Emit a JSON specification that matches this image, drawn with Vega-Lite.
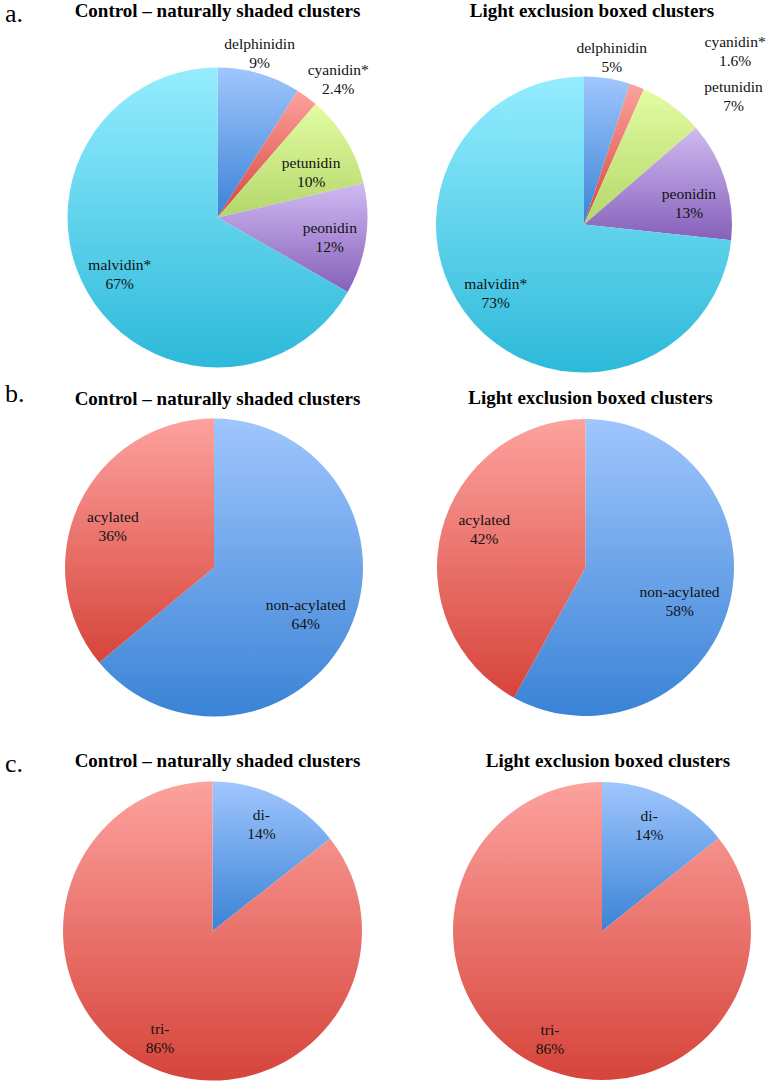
{
  "$schema": "https://vega.github.io/schema/vega-lite/v6.json",
  "background": "white",
  "padding": {"left": 0, "top": 0, "right": 0, "bottom": 0},
  "config": {
    "view": {"stroke": null},
    "title": {"font": "Liberation Serif", "fontSize": 19, "fontWeight": "bold", "color": "#000000"},
    "text": {"font": "Liberation Serif", "fontSize": 15.5, "color": "#111111", "lineBreak": "\n", "lineHeight": 19, "baseline": "middle", "align": "center", "dy": -9.5}
  },
  "datasets": {
    "aC": [
      {"name": "delphinidin", "label": "delphinidin\n9%", "value": 9, "order": 1},
      {"name": "cyanidin", "label": "cyanidin*\n2.4%", "value": 2.4, "order": 2},
      {"name": "petunidin", "label": "petunidin\n10%", "value": 10, "order": 3},
      {"name": "peonidin", "label": "peonidin\n12%", "value": 12, "order": 4},
      {"name": "malvidin", "label": "malvidin*\n67%", "value": 67, "order": 5}
    ],
    "aL": [
      {"name": "delphinidin", "label": "delphinidin\n5%", "value": 5, "order": 1},
      {"name": "cyanidin", "label": "cyanidin*\n1.6%", "value": 1.6, "order": 2},
      {"name": "petunidin", "label": "petunidin\n7%", "value": 7, "order": 3},
      {"name": "peonidin", "label": "peonidin\n13%", "value": 13, "order": 4},
      {"name": "malvidin", "label": "malvidin*\n73%", "value": 73, "order": 5}
    ],
    "bC": [
      {"name": "non-acylated", "label": "non-acylated\n64%", "value": 64, "order": 1},
      {"name": "acylated", "label": "acylated\n36%", "value": 36, "order": 2}
    ],
    "bL": [
      {"name": "non-acylated", "label": "non-acylated\n58%", "value": 58, "order": 1},
      {"name": "acylated", "label": "acylated\n42%", "value": 42, "order": 2}
    ],
    "cC": [
      {"name": "di-", "label": "di-\n14%", "value": 14.4, "order": 1},
      {"name": "tri-", "label": "tri-\n86%", "value": 85.6, "order": 2}
    ],
    "cL": [
      {"name": "di-", "label": "di-\n14%", "value": 14.3, "order": 1},
      {"name": "tri-", "label": "tri-\n86%", "value": 85.7, "order": 2}
    ]
  },
  "columns": 3,
  "align": "each",
  "bounds": "flush",
  "spacing": {"row": 63.5, "column": 66.5},
  "resolve": {"scale": {"theta": "independent"}},
  "concat": [
    {
      "width": 1, "height": 1,
      "title": {"text": "a.", "anchor": "start", "fontSize": 26, "fontWeight": "normal", "dx": 5, "offset": 68.5},
      "data": {"values": []},
      "mark": "point"
    },
    {
      "width": 300, "height": 245,
      "title": {"text": "Control – naturally shaded clusters", "offset": 16.25, "dx": 0},
      "data": {"name": "aC"},
      "encoding": {
        "theta": {"field": "value", "type": "quantitative", "stack": true},
        "order": {"field": "order", "type": "quantitative"}
      },
      "layer": [
        {"mark": {"type": "arc", "outerRadius": 150, "color": {"gradient": "linear", "x1": 0, "y1": 0, "x2": 0, "y2": 1, "stops": [{"offset": 0, "color": "#a0c6fd"}, {"offset": 1, "color": "#3a83d6"}]}},
         "encoding": {"opacity": {"condition": {"test": "datum.name === 'delphinidin'", "value": 1}, "value": 0}}},
        {"mark": {"type": "arc", "outerRadius": 150, "color": {"gradient": "linear", "x1": 0, "y1": 0, "x2": 0, "y2": 1, "stops": [{"offset": 0, "color": "#fda29e"}, {"offset": 1, "color": "#d6443a"}]}},
         "encoding": {"opacity": {"condition": {"test": "datum.name === 'cyanidin'", "value": 1}, "value": 0}}},
        {"mark": {"type": "arc", "outerRadius": 150, "color": {"gradient": "linear", "x1": 0, "y1": 0, "x2": 0, "y2": 1, "stops": [{"offset": 0, "color": "#e3fca3"}, {"offset": 1, "color": "#b3d76a"}]}},
         "encoding": {"opacity": {"condition": {"test": "datum.name === 'petunidin'", "value": 1}, "value": 0}}},
        {"mark": {"type": "arc", "outerRadius": 150, "color": {"gradient": "linear", "x1": 0, "y1": 0, "x2": 0, "y2": 1, "stops": [{"offset": 0, "color": "#d0baf1"}, {"offset": 1, "color": "#8660ba"}]}},
         "encoding": {"opacity": {"condition": {"test": "datum.name === 'peonidin'", "value": 1}, "value": 0}}},
        {"mark": {"type": "arc", "outerRadius": 150, "color": {"gradient": "linear", "x1": 0, "y1": 0, "x2": 0, "y2": 1, "stops": [{"offset": 0, "color": "#95edfe"}, {"offset": 1, "color": "#2db9da"}]}},
         "encoding": {"opacity": {"condition": {"test": "datum.name === 'malvidin'", "value": 1}, "value": 0}}},
        {"mark": {"type": "text",
           "radius": {"expr": "datum.name === 'delphinidin' ? 169 : datum.name === 'cyanidin' ? 183 : datum.name === 'petunidin' ? 104 : datum.name === 'peonidin' ? 114 : 113"},
           "thetaOffset": {"expr": "datum.name === 'delphinidin' ? -0.03 : datum.name === 'cyanidin' ? 0.082 : datum.name === 'petunidin' ? 0.094 : datum.name === 'peonidin' ? 0.03 : 0"}},
         "encoding": {"text": {"field": "label", "type": "nominal"}}}
      ]
    },
    {
      "width": 300, "height": 259,
      "title": {"text": "Light exclusion boxed clusters", "offset": 13.25, "dx": 8},
      "data": {"name": "aL"},
      "encoding": {
        "theta": {"field": "value", "type": "quantitative", "stack": true},
        "order": {"field": "order", "type": "quantitative"}
      },
      "layer": [
        {"mark": {"type": "arc", "outerRadius": 148, "color": {"gradient": "linear", "x1": 0, "y1": 0, "x2": 0, "y2": 1, "stops": [{"offset": 0, "color": "#a0c6fd"}, {"offset": 1, "color": "#3a83d6"}]}},
         "encoding": {"opacity": {"condition": {"test": "datum.name === 'delphinidin'", "value": 1}, "value": 0}}},
        {"mark": {"type": "arc", "outerRadius": 148, "color": {"gradient": "linear", "x1": 0, "y1": 0, "x2": 0, "y2": 1, "stops": [{"offset": 0, "color": "#fda29e"}, {"offset": 1, "color": "#d6443a"}]}},
         "encoding": {"opacity": {"condition": {"test": "datum.name === 'cyanidin'", "value": 1}, "value": 0}}},
        {"mark": {"type": "arc", "outerRadius": 148, "color": {"gradient": "linear", "x1": 0, "y1": 0, "x2": 0, "y2": 1, "stops": [{"offset": 0, "color": "#e3fca3"}, {"offset": 1, "color": "#b3d76a"}]}},
         "encoding": {"opacity": {"condition": {"test": "datum.name === 'petunidin'", "value": 1}, "value": 0}}},
        {"mark": {"type": "arc", "outerRadius": 148, "color": {"gradient": "linear", "x1": 0, "y1": 0, "x2": 0, "y2": 1, "stops": [{"offset": 0, "color": "#d0baf1"}, {"offset": 1, "color": "#8660ba"}]}},
         "encoding": {"opacity": {"condition": {"test": "datum.name === 'peonidin'", "value": 1}, "value": 0}}},
        {"mark": {"type": "arc", "outerRadius": 148, "color": {"gradient": "linear", "x1": 0, "y1": 0, "x2": 0, "y2": 1, "stops": [{"offset": 0, "color": "#95edfe"}, {"offset": 1, "color": "#2db9da"}]}},
         "encoding": {"opacity": {"condition": {"test": "datum.name === 'malvidin'", "value": 1}, "value": 0}}},
        {"mark": {"type": "text",
           "radius": {"expr": "datum.name === 'delphinidin' ? 169 : datum.name === 'cyanidin' ? 230 : datum.name === 'petunidin' ? 197 : datum.name === 'peonidin' ? 107 : 112"},
           "thetaOffset": {"expr": "datum.name === 'delphinidin' ? 0.007 : datum.name === 'cyanidin' ? 0.351 : datum.name === 'petunidin' ? 0.225 : datum.name === 'peonidin' ? 0.103 : 0.068"}},
         "encoding": {"text": {"field": "label", "type": "nominal"}}}
      ]
    },
    {
      "width": 1, "height": 1,
      "title": {"text": "b.", "anchor": "start", "fontSize": 26, "fontWeight": "normal", "dx": 5, "offset": 11},
      "data": {"values": []},
      "mark": "point"
    },
    {
      "width": 293, "height": 300,
      "title": {"text": "Control – naturally shaded clusters", "offset": 9, "dx": 3.5},
      "data": {"name": "bC"},
      "encoding": {
        "theta": {"field": "value", "type": "quantitative", "stack": true},
        "order": {"field": "order", "type": "quantitative"}
      },
      "layer": [
        {"mark": {"type": "arc", "outerRadius": 149, "color": {"gradient": "linear", "x1": 0, "y1": 0, "x2": 0, "y2": 1, "stops": [{"offset": 0, "color": "#a0c6fd"}, {"offset": 1, "color": "#3a83d6"}]}},
         "encoding": {"opacity": {"condition": {"test": "datum.name === 'non-acylated'", "value": 1}, "value": 0}}},
        {"mark": {"type": "arc", "outerRadius": 149, "color": {"gradient": "linear", "x1": 0, "y1": 0, "x2": 0, "y2": 1, "stops": [{"offset": 0, "color": "#fda29e"}, {"offset": 1, "color": "#d6443a"}]}},
         "encoding": {"opacity": {"condition": {"test": "datum.name === 'acylated'", "value": 1}, "value": 0}}},
        {"mark": {"type": "text",
           "radius": {"expr": "datum.name === 'non-acylated' ? 103 : 109"},
           "thetaOffset": {"expr": "datum.name === 'non-acylated' ? 0.031 : -0.059"}},
         "encoding": {"text": {"field": "label", "type": "nominal"}}}
      ]
    },
    {
      "width": 303, "height": 300,
      "title": {"text": "Light exclusion boxed clusters", "offset": 9.5, "dx": 5},
      "data": {"name": "bL"},
      "encoding": {
        "theta": {"field": "value", "type": "quantitative", "stack": true},
        "order": {"field": "order", "type": "quantitative"}
      },
      "layer": [
        {"mark": {"type": "arc", "outerRadius": 148.5, "color": {"gradient": "linear", "x1": 0, "y1": 0, "x2": 0, "y2": 1, "stops": [{"offset": 0, "color": "#a0c6fd"}, {"offset": 1, "color": "#3a83d6"}]}},
         "encoding": {"opacity": {"condition": {"test": "datum.name === 'non-acylated'", "value": 1}, "value": 0}}},
        {"mark": {"type": "arc", "outerRadius": 148.5, "color": {"gradient": "linear", "x1": 0, "y1": 0, "x2": 0, "y2": 1, "stops": [{"offset": 0, "color": "#fda29e"}, {"offset": 1, "color": "#d6443a"}]}},
         "encoding": {"opacity": {"condition": {"test": "datum.name === 'acylated'", "value": 1}, "value": 0}}},
        {"mark": {"type": "text",
           "radius": {"expr": "datum.name === 'non-acylated' ? 100 : 108"},
           "thetaOffset": {"expr": "datum.name === 'non-acylated' ? 0.094 : 0.105"}},
         "encoding": {"text": {"field": "label", "type": "nominal"}}}
      ]
    },
    {
      "width": 1, "height": 1,
      "title": {"text": "c.", "anchor": "start", "fontSize": 26, "fontWeight": "normal", "dx": 5, "offset": 4.5},
      "data": {"values": []},
      "mark": "point"
    },
    {
      "width": 290, "height": 300,
      "title": {"text": "Control – naturally shaded clusters", "offset": 10, "dx": 5},
      "data": {"name": "cC"},
      "encoding": {
        "theta": {"field": "value", "type": "quantitative", "stack": true},
        "order": {"field": "order", "type": "quantitative"}
      },
      "layer": [
        {"mark": {"type": "arc", "outerRadius": 149.5, "color": {"gradient": "linear", "x1": 0, "y1": 0, "x2": 0, "y2": 1, "stops": [{"offset": 0, "color": "#a0c6fd"}, {"offset": 1, "color": "#3a83d6"}]}},
         "encoding": {"opacity": {"condition": {"test": "datum.name === 'di-'", "value": 1}, "value": 0}}},
        {"mark": {"type": "arc", "outerRadius": 149.5, "color": {"gradient": "linear", "x1": 0, "y1": 0, "x2": 0, "y2": 1, "stops": [{"offset": 0, "color": "#fda29e"}, {"offset": 1, "color": "#d6443a"}]}},
         "encoding": {"opacity": {"condition": {"test": "datum.name === 'tri-'", "value": 1}, "value": 0}}},
        {"mark": {"type": "text",
           "radius": {"expr": "datum.name === 'di-' ? 117 : 120"},
           "thetaOffset": {"expr": "datum.name === 'di-' ? -0.021 : 0"}},
         "encoding": {"text": {"field": "label", "type": "nominal"}}}
      ]
    },
    {
      "width": 336, "height": 300,
      "title": {"text": "Light exclusion boxed clusters", "offset": 10.5, "dx": 6},
      "data": {"name": "cL"},
      "encoding": {
        "theta": {"field": "value", "type": "quantitative", "stack": true},
        "order": {"field": "order", "type": "quantitative"}
      },
      "layer": [
        {"mark": {"type": "arc", "outerRadius": 149, "color": {"gradient": "linear", "x1": 0, "y1": 0, "x2": 0, "y2": 1, "stops": [{"offset": 0, "color": "#a0c6fd"}, {"offset": 1, "color": "#3a83d6"}]}},
         "encoding": {"opacity": {"condition": {"test": "datum.name === 'di-'", "value": 1}, "value": 0}}},
        {"mark": {"type": "arc", "outerRadius": 149, "color": {"gradient": "linear", "x1": 0, "y1": 0, "x2": 0, "y2": 1, "stops": [{"offset": 0, "color": "#fda29e"}, {"offset": 1, "color": "#d6443a"}]}},
         "encoding": {"opacity": {"condition": {"test": "datum.name === 'tri-'", "value": 1}, "value": 0}}},
        {"mark": {"type": "text",
           "radius": {"expr": "datum.name === 'di-' ? 116 : 120"},
           "thetaOffset": {"expr": "datum.name === 'di-' ? -0.03 : 0"}},
         "encoding": {"text": {"field": "label", "type": "nominal"}}}
      ]
    }
  ]
}
